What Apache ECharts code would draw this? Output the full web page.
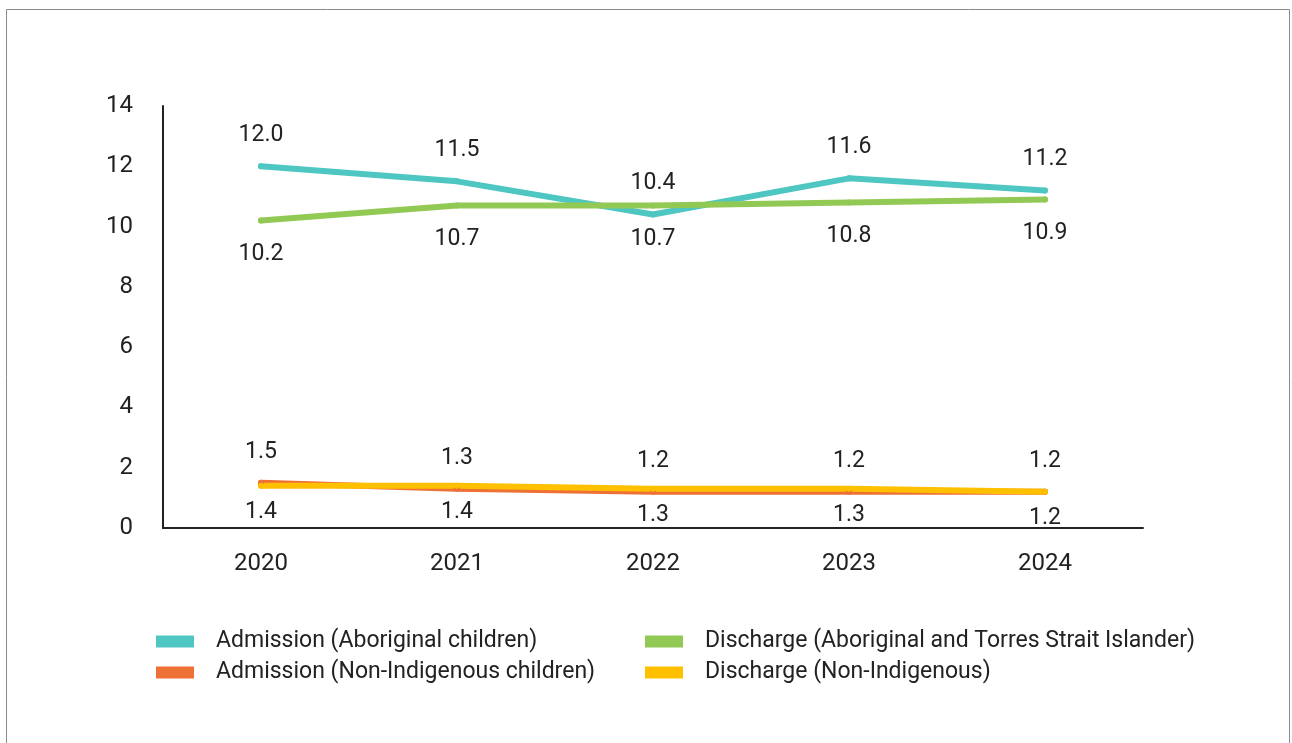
<!DOCTYPE html>
<html>
<head>
<meta charset="utf-8">
<script src="https://cdn.jsdelivr.net/npm/echarts@6/dist/echarts.min.js"></script>
<style>
  html, body { margin: 0; padding: 0; background: #fff; }
  #main { width: 1292px; height: 743px; }
</style>
</head>
<body>
<div id="main"></div>
<script>
// years on the x axis
var years = ["2020", "2021", "2022", "2023", "2024"];
// rates per series
var admAboriginal = [12.0, 11.5, 10.4, 11.6, 11.2];
var admNonIndig = [1.5, 1.3, 1.2, 1.2, 1.2];
var disAboriginal = [10.2, 10.7, 10.7, 10.8, 10.9];
var disNonIndig = [1.4, 1.4, 1.3, 1.3, 1.2];

var FONT = "Roboto, 'Noto Sans', sans-serif";
var chart = echarts.init(document.getElementById("main"));

function lineSeries(name, data, color, pos, dist) {
  return {
    name: name,
    type: "line",
    data: data,
    symbol: "circle",
    symbolSize: 6,
    itemStyle: { color: color },
    lineStyle: { width: 6, color: color, cap: "round", join: "round" },
    label: {
      show: true,
      position: pos,
      distance: dist,
      color: "#222",
      fontFamily: FONT,
      fontSize: 23,
      formatter: function (p) { return p.value.toFixed(1); }
    },
    animation: false
  };
}

chart.setOption({
  backgroundColor: "#fff",
  graphic: [{
    type: "rect",
    shape: { x: 6.5, y: 9.5, width: 1283, height: 760 },
    style: { fill: null, stroke: "#8a8a8a", lineWidth: 1 },
    silent: true
  }],
  grid: { left: 163, top: 106, width: 980, height: 422 },
  legend: [
    {
      orient: "vertical",
      left: 151, top: 625,
      itemWidth: 38, itemHeight: 12, itemGap: 8,
      icon: "rect",
      data: ["Admission (Aboriginal children)", "Admission (Non-Indigenous children)"],
      textStyle: { fontFamily: FONT, fontSize: 23, color: "#222", padding: [0, 0, 0, 17] }
    },
    {
      orient: "vertical",
      left: 640, top: 625,
      itemWidth: 38, itemHeight: 12, itemGap: 8,
      icon: "rect",
      data: ["Discharge (Aboriginal and Torres Strait Islander)", "Discharge (Non-Indigenous)"],
      textStyle: { fontFamily: FONT, fontSize: 23, color: "#222", padding: [0, 0, 0, 17] }
    }
  ],
  xAxis: {
    type: "category",
    data: years,
    boundaryGap: true,
    axisLine: { lineStyle: { color: "#222", width: 2 } },
    axisTick: { show: false },
    axisLabel: { color: "#222", fontFamily: FONT, fontSize: 24, margin: 24 }
  },
  yAxis: {
    type: "value",
    min: 0, max: 14, interval: 2,
    axisLine: { show: true, lineStyle: { color: "#222", width: 2 } },
    axisTick: { show: false },
    splitLine: { show: false },
    axisLabel: { color: "#222", fontFamily: FONT, fontSize: 24, margin: 30 }
  },
  series: [
    lineSeries("Admission (Aboriginal children)", admAboriginal, "#4ec6c2", "top", 17),
    lineSeries("Admission (Non-Indigenous children)", admNonIndig, "#ee7034", "top", 16),
    lineSeries("Discharge (Aboriginal and Torres Strait Islander)", disAboriginal, "#92c955", "bottom", 19),
    lineSeries("Discharge (Non-Indigenous)", disNonIndig, "#ffc000", "bottom", 12)
  ]
});
</script>
</body>
</html>
